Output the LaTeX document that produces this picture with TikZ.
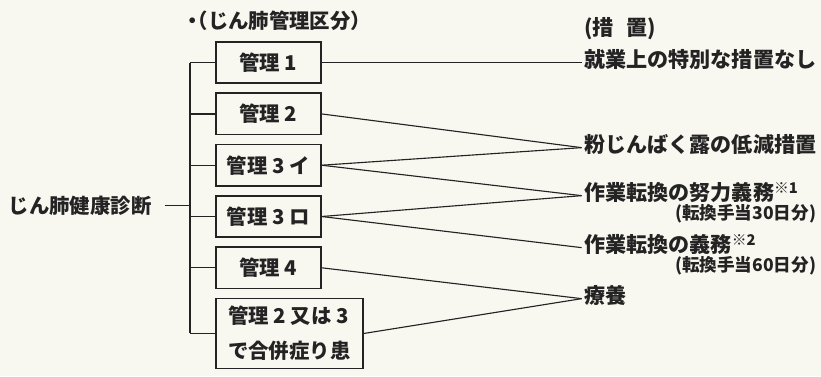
\documentclass[tikz,border=0pt]{standalone}
\usepackage{fontspec}
\setmainfont{Noto Sans CJK JP}
\usetikzlibrary{positioning,calc}
\definecolor{paper}{RGB}{248,247,240}
\definecolor{ink}{RGB}{35,35,35}

\begin{document}
\begin{tikzpicture}[color=ink, line width=0.8pt,
        every node/.style={font=\bfseries\fontsize{14.5pt}{17pt}\selectfont},
        kubun/.style={draw, line width=1.2pt, minimum width=2.625cm, minimum height=1.03cm, inner sep=0pt},
        sochi/.style={anchor=west, inner sep=1.5pt, text height=0.85em, text depth=0.15em,
            font=\bfseries\fontsize{15pt}{18pt}\selectfont},
        teate/.style={anchor=east, inner sep=0pt, font=\bfseries\fontsize{12.5pt}{15pt}\selectfont}]
        \fill[paper] (0,0) rectangle (20.525,-9.4);
        \useasboundingbox (0,0) rectangle (20.525,-9.4);
        % kanri kubun boxes
        \node[kubun, anchor=north west] (k1) at (5.375,-1.03) {管理 1};
        \node[kubun, below=0.21cm of k1] (k2) {管理 2};
        \node[kubun, below=0.21cm of k2] (k3) {管理 3 イ};
        \node[kubun, below=0.21cm of k3] (k4) {管理 3 ロ};
        \node[kubun, below=0.21cm of k4] (k5) {管理 4};
        \node[kubun, anchor=north west, minimum width=3.675cm, minimum height=1.75cm, align=left,
            font=\bfseries\fontsize{14.5pt}{25pt}\selectfont] (k6) at ([yshift=-0.21cm]k5.south west)
            {管理 2 又は 3\\で合併症り患};
        \coordinate (trunktop) at ($(k1.west)-(0.625cm,0)$);
        \coordinate (trunkbot) at ($(k6.west)-(0.625cm,0)$);
        \coordinate (j) at ($(trunktop)-(0,3.575cm)$);
        \node[anchor=west, inner sep=0pt] (kubunttl) at ($(trunktop |- k1.north)+(-0.2cm,0.5cm)$)
            {・\kern-0.75em（じん肺管理区分）};
        \node[anchor=east, inner sep=0pt] (kenshin) at ($(j)-(0.95cm,0)$) {じん肺健康診断};
        % sochi
        \node[sochi, right=6.5cm of k1] (s1) {就業上の特別な措置なし};
        \node[sochi] (sochittl) at ($(s1.west)+(0,0.8cm)$) {(措\hspace{0.6em}置)};
        \node[sochi] (s2) at ($(s1.west)-(0,2.125cm)$) {粉じんばく露の低減措置};
        \node[sochi] (s3) at ($(s1.west)-(0,3.325cm)$) {作業転換の努力義務\textsuperscript{※1}};
        \node[sochi] (s4) at ($(s1.west)-(0,4.625cm)$) {作業転換の義務\textsuperscript{※2}};
        \node[sochi] (s5) at ($(s1.west)-(0,5.9cm)$) {療養};
        \node[teate] (t3) at ($(s3.west)+(5.875cm,-0.45cm)$) {(転換手当30日分)};
        \node[teate] (t4) at ($(s4.west)+(5.875cm,-0.45cm)$) {(転換手当60日分)};
        % lines
        \draw (trunktop) -- (trunkbot);
        \foreach \i in {1,...,6}
            \draw (k\i.west) -- (trunktop |- k\i.west);
        \draw[shorten <=0.325cm] (kenshin.east) -- (j);
        \draw (k1.east) -- (s1.west);
        \draw (k2.east) -- (s2.west);
        \draw (k3.east) -- (s2.west);
        \draw (k3.east) -- (s3.west);
        \draw (k4.east) -- (s3.west);
        \draw (k4.east) -- (s4.west);
        \draw (k5.east) -- (s5.west);
        \draw (k6.east) -- (s5.west);
\end{tikzpicture}
\end{document}
